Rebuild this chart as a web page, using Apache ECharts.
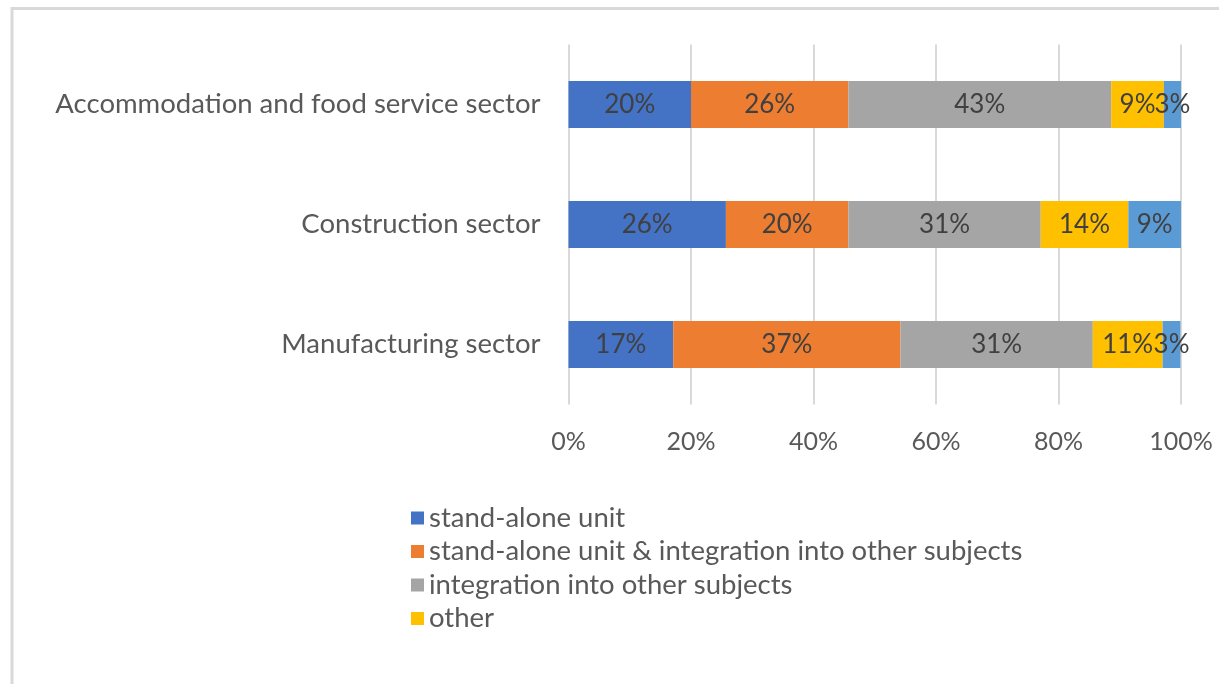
<!DOCTYPE html>
<html>
<head>
<meta charset="utf-8">
<script src="https://cdn.jsdelivr.net/npm/echarts@6/dist/echarts.min.js"></script>
<style>
html,body{margin:0;padding:0;background:#fff;}
#c{width:1219px;height:684px;}
</style>
</head>
<body>
<div id="c"></div>
<script>
const categories = ['Manufacturing sector', 'Construction sector', 'Accommodation and food service sector'];
const seriesNames = ['stand-alone unit', 'stand-alone unit & integration into other subjects', 'integration into other subjects', 'other', 'not specified'];
const standAlone = [17.1, 25.7, 20.0];
const standAloneIntegration = [37.1, 20.0, 25.7];
const integration = [31.4, 31.4, 42.9];
const other = [11.4, 14.3, 8.6];
const rest = [2.9, 8.6, 2.9];
const xTicks = [0, 20, 40, 60, 80, 100];

const colors = ['#4472C4', '#ED7D31', '#A5A5A5', '#FFC000', '#5B9BD5'];
const values = [standAlone, standAloneIntegration, integration, other, rest];
const FONT = 'Lato';

const chart = echarts.init(document.getElementById('c'), null, {renderer: 'canvas'});
chart.setOption({
  animation: false,
  backgroundColor: '#fff',
  graphic: [
    {type: 'line', shape: {x1: 11, y1: 8.5, x2: 1219, y2: 8.5}, style: {stroke: '#d9d9d9', lineWidth: 3}, silent: true},
    {type: 'line', shape: {x1: 12, y1: 7, x2: 12, y2: 684}, style: {stroke: '#d9d9d9', lineWidth: 3}, silent: true}
  ],
  grid: {left: 568.5, right: 38, top: 44.5, height: 360, containLabel: false},
  xAxis: {
    type: 'value', min: xTicks[0], max: xTicks[xTicks.length - 1], interval: 20,
    axisLine: {show: false}, axisTick: {show: false},
    splitLine: {lineStyle: {color: '#d9d9d9', width: 2}},
    axisLabel: {formatter: '{value}%', color: '#595959', fontFamily: FONT, fontSize: 25, margin: 25}
  },
  yAxis: {
    type: 'category', data: categories,
    axisLine: {show: false}, axisTick: {show: false},
    axisLabel: {color: '#595959', fontFamily: FONT, fontSize: 27.5, margin: 28}
  },
  legend: {
    orient: 'vertical', left: 406, top: 499,
    data: seriesNames.slice(0, 4),
    icon: 'rect', itemWidth: 13, itemHeight: 13, itemGap: 5.5, itemTextGap: 11,
    textStyle: {color: '#595959', fontFamily: FONT, fontSize: 27.5, lineHeight: 27.5}
  },
  series: values.map((v, i) => ({
    name: seriesNames[i], type: 'bar', stack: 'total', barWidth: 47,
    data: v,
    itemStyle: {color: colors[i]},
    label: {
      show: true, position: 'inside', color: '#404040', fontFamily: FONT, fontSize: 26,
      formatter: p => Math.round(p.value) + '%'
    }
  }))
});
</script>
</body>
</html>
